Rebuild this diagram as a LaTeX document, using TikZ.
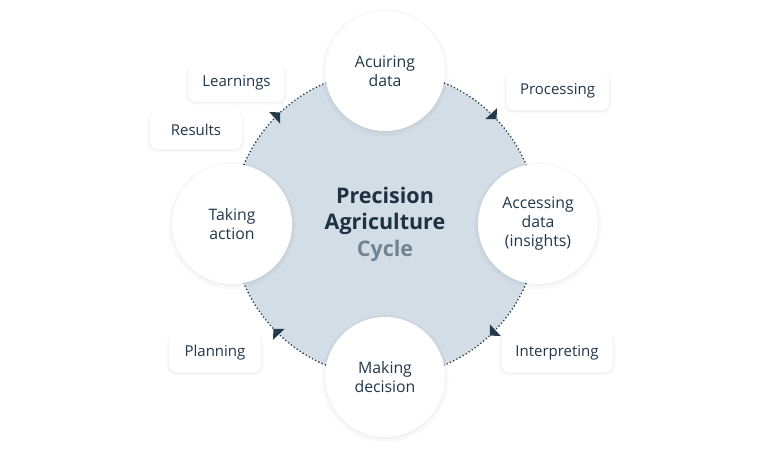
\documentclass[tikz,border=0pt]{standalone}
\usepackage{fontspec}
\setmainfont{Open Sans}
\usetikzlibrary{arrows.meta,decorations.markings,shadows}

\definecolor{hubfill}{HTML}{D2DDE6}
\definecolor{inktext}{HTML}{22374A}
\definecolor{titletext}{HTML}{1E3244}
\definecolor{cyclegray}{HTML}{718390}
\definecolor{dotline}{HTML}{263A4A}

\begin{document}
\begin{tikzpicture}
[x=1pt,y=1pt,
 softshadow/.style={general shadow={fill=black,opacity=0.025,shadow scale=#1,shadow yshift=-1.5pt},
   general shadow={fill=black,opacity=0.03,shadow scale=1.015,shadow yshift=-1pt}},%
 hubdecorate/.style={shape=circle,fill=hubfill,minimum size=306pt,inner sep=0pt,
   outer sep=0pt,align=center,text=titletext,font=\fontsize{21.5}{26.5}\selectfont\bfseries},%
 circledecorate/.style={shape=circle,fill=white,minimum size=120pt,inner sep=0pt,
   align=center,text=inktext,font=\fontsize{15.8}{19}\selectfont,softshadow=1.06},%
 boxdecorate/.style={shape=rectangle,rounded corners=8pt,fill=white,minimum width=92pt,
   minimum height=39pt,inner xsep=14pt,text=inktext,font=\fontsize{15}{18}\selectfont,
   softshadow=1.05},%
 arcdecorate/.style={dotline,line width=1.8pt,dash pattern=on 0pt off 3.6pt,line cap=round,
   postaction={decorate},
   decoration={markings,mark=at position 0.52 with {\arrow{Triangle[angle=90:11pt]}}}}]
\useasboundingbox (0,0) rectangle (770,450);
%%
%% central cycle
\node (hub) at (385,226) [hubdecorate] {Precision\\Agriculture\\\textcolor{cyclegray}{Cycle}};
%% dotted arcs, clockwise
\foreach \startangle/\endangle in {90/0, 0/-90, -90/-180, 180/90} {
  \draw[arcdecorate] (hub.\startangle) arc[start angle=\startangle,end angle=\endangle,radius=153pt];
}
%%
%% steps on the cycle
\foreach \nodename/\anchorname/\nodetext in {acquire/90/Acuiring\\data,
  access/0/Accessing\\data\\(insights), decide/-90/Making\\decision, act/180/Taking\\action} {
  \node (\nodename) at (hub.\anchorname) [circledecorate] {\nodetext};
}
%%
%% labels between the steps
\foreach \nodename/\x/\y/\nodetext in {learnings/236.5/367.5/Learnings, results/196/320/Results,
  processing/557.5/359/Processing, planning/215/97/Planning, interpreting/557/97/Interpreting} {
  \node (\nodename) at (\x,\y) [boxdecorate] {\nodetext};
}
\end{tikzpicture}
\end{document}
